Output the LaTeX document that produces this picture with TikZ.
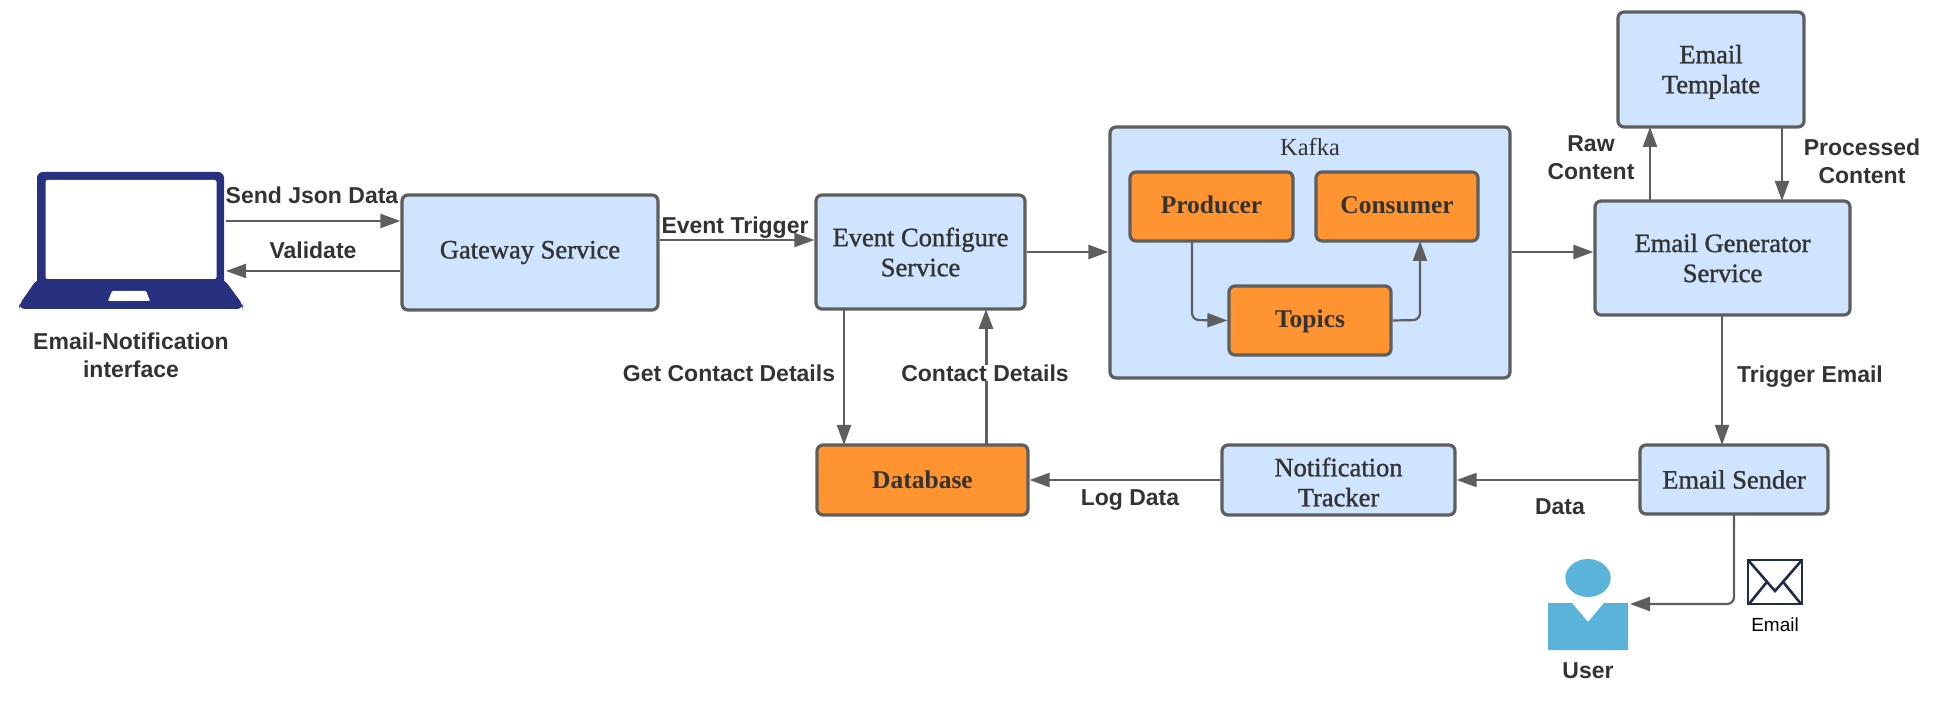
\documentclass[tikz,border=0pt]{standalone}
\usepackage{fontspec}
\setmainfont{Liberation Serif}
\newfontfamily\lblfont{Liberation Sans}
\newfontfamily\medfont[FakeBold=1.2]{Liberation Serif}
\definecolor{boxblue}{HTML}{CFE4FF}
\definecolor{boxorange}{HTML}{FF9430}
\definecolor{edge}{HTML}{5E5E5E}
\definecolor{txt}{HTML}{333333}
\definecolor{navy}{HTML}{283080}
\definecolor{userblue}{HTML}{5AB4DA}
\definecolor{envel}{HTML}{1F2D45}
\usetikzlibrary{arrows.meta}
\tikzset{
  x=1pt,y=-1pt,
  box/.style={draw=edge,line width=3.2pt,rounded corners=6pt,inner sep=0pt,text=txt,align=center,font=\medfont\fontsize{26.5}{30}\selectfont},
  bluebox/.style={box,fill=boxblue},
  orangebox/.style={box,fill=boxorange,font=\bfseries\fontsize{25.5}{30}\selectfont},
  lbl/.style={inner sep=0pt,text=txt,align=center,font=\lblfont\fontsize{23}{28}\selectfont\bfseries},
  conn/.style={draw=edge,line width=2.2pt,-{Triangle[length=20pt,width=14pt]},rounded corners=7pt}
}
\newcommand{\boxat}[7]{\node[#1,minimum width=#4 pt - #2 pt,minimum height=#5 pt - #3 pt] (#6) at ({(#2+#4)/2},{(#3+#5)/2}) {#7};}
\newcommand{\nudged}[2]{\raisebox{#1}[0pt][0pt]{\begin{tabular}{@{}c@{}}#2\end{tabular}}}
\begin{document}
\begin{tikzpicture}
\useasboundingbox (0,0) rectangle (1944,708);
% laptop
\fill[navy,rounded corners=6pt] (37,309) -- (37,172) -- (224,172) -- (224,309) -- cycle;
\fill[navy,rounded corners=6pt] (37,279) -- (224,279) -- (243,305) -- (243,309) -- (19,309) -- (19,305) -- cycle;
\fill[white,rounded corners=2pt] (45.5,180) rectangle (216.5,279);
\fill[white,rounded corners=1pt] (112,291) -- (146,291) -- (150,301) -- (108,301) -- cycle;
\coordinate (lapS) at (226,221);
\coordinate (lapV) at (226,271);
% boxes
\boxat{bluebox}{402}{195}{658}{310}{gw}{Gateway Service}
\boxat{bluebox}{816}{195}{1025}{309}{ev}{Event Configure\\Service}
\boxat{bluebox}{1110}{127}{1510}{378}{kafka}{}
\node[text=txt,font=\fontsize{24.5}{26}\selectfont,inner sep=0pt] (kt) at (1310,147) {Kafka};
\boxat{orangebox}{1130}{172}{1293}{241}{prod}{\nudged{-7pt}{Producer}}
\boxat{orangebox}{1316}{172}{1478}{241}{cons}{\nudged{-7pt}{Consumer}}
\boxat{orangebox}{1229}{286}{1391}{355}{top}{\nudged{-7pt}{Topics}}
\boxat{bluebox}{1595}{201}{1850}{315}{gen}{Email Generator\\Service}
\boxat{bluebox}{1618}{12}{1804}{127}{tpl}{\nudged{-9pt}{Email\\Template}}
\boxat{bluebox}{1640}{445}{1828}{514}{snd}{Email Sender}
\boxat{bluebox}{1222}{445}{1455}{515}{trk}{\nudged{-11.5pt}{Notification\\Tracker}}
\boxat{orangebox}{817}{445}{1028}{515}{db}{Database}
% user
\fill[userblue] (1588,578) ellipse [x radius=22.7,y radius=19];
\fill[userblue] (1548,603) -- (1572,603) -- (1588,622) -- (1604,603) -- (1628,603) -- (1628,650) -- (1548,650) -- cycle;
\coordinate (usr) at (1630,604);
% envelope
\draw[envel,line width=2.6pt] (1748,560) rectangle (1802,604);
\draw[envel,line width=2.6pt] (1748,560) -- (1775,591) -- (1802,560) (1749,604) -- (1766,583) (1801,604) -- (1784,583);
% connectors
\draw[conn] (lapS) -- (gw.west |- lapS);
\draw[conn] (gw.west |- lapV) -- (lapV);
\draw[conn] (gw.east |- 0,240) -- (ev.west |- 0,240);
\draw[conn] (ev.east |- 0,252) -- (kafka.west |- 0,252);
\draw[conn] (kafka.east |- 0,252) -- (gen.west |- 0,252);
\draw[conn] (1192,241) -- (1192,320) -- (top.west);
\draw[conn] (top.east) -- (1420,320) -- (1420,241);
\draw[conn] (1650,201) -- (1650,127);
\draw[conn] (1782,127) -- (1782,201);
\draw[conn] (1722,315) -- (1722,445);
\draw[conn] (snd.west |- 0,480) -- (trk.east |- 0,480);
\draw[conn] (trk.west |- 0,480) -- (db.east |- 0,480);
\draw[conn] (844,309) -- (844,445);
\draw[conn,line width=3pt] (986,445) -- (986,309);
\draw[conn] (1734,514) -- (1734,604) -- (usr);
% labels
\node[lbl] (l1) at (312,195) {Send Json Data};
\node[lbl] (l2) at (313,250) {Validate};
\node[lbl] (l3) at (131,355) {Email-Notification\\interface};
\node[lbl] (l4) at (735,228) {Event Trigger};
\node[lbl,fill=white] (l5) at (729,373) {Get Contact Details};
\node[lbl,fill=white] (l6) at (985,373) {Contact Details};
\node[lbl] (l7) at (1591,158) {Raw\\Content};
\node[lbl] (l8) at (1862,161) {Processed\\Content};
\node[lbl] (l9) at (1810,377) {Trigger Email};
\node[lbl] (l10) at (1560,507) {Data};
\node[lbl] (l11) at (1130,500) {Log Data};
\node[lbl] (l12) at (1588,671) {User};
\node[inner sep=0pt,font=\lblfont\fontsize{19}{22}\selectfont] (l13) at (1775,625) {Email};
\end{tikzpicture}
\end{document}
